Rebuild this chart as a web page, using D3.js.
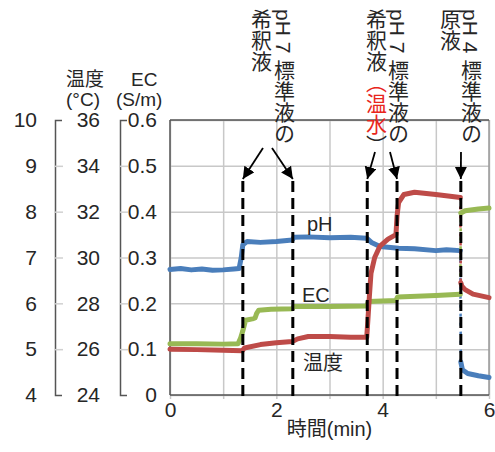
<!DOCTYPE html>
<html>
<head>
<meta charset="utf-8">
<script src="https://cdn.jsdelivr.net/npm/d3@7/dist/d3.min.js"></script>
<style>
body { margin: 0; background: #fff; }
svg text { font-family: "Liberation Sans", "Noto Sans CJK JP", sans-serif; fill: #262626; }
</style>
</head>
<body>
<svg width="495" height="452"></svg>
<script>
// readings, time in minutes
const phTime = [0, 0.2, 0.4, 0.6, 0.8, 1.0, 1.2, 1.3, 1.34, 1.37, 1.45, 1.7, 2.0, 2.3, 2.33, 2.6, 3.0, 3.4, 3.7, 3.8, 3.95, 4.3, 4.6, 5.0, 5.2, 5.46, 5.47, 5.5, 5.6, 5.8, 6.0];
const phValue = [6.74, 6.76, 6.73, 6.75, 6.72, 6.73, 6.75, 6.76, 7.0, 7.28, 7.35, 7.33, 7.35, 7.38, 7.44, 7.45, 7.43, 7.44, 7.42, 7.32, 7.24, 7.2, 7.19, 7.15, 7.17, 7.15, 4.72, 4.55, 4.47, 4.42, 4.38];

const ecTime = [0, 0.5, 1.0, 1.28, 1.33, 1.37, 1.42, 1.55, 1.6, 1.63, 1.67, 1.9, 2.3, 2.33, 3.0, 3.7, 3.73, 4.25, 4.28, 5.0, 5.46, 5.47, 5.55, 5.8, 6.0];
const ecValue = [0.112, 0.112, 0.111, 0.112, 0.125, 0.14, 0.163, 0.166, 0.168, 0.178, 0.185, 0.187, 0.188, 0.193, 0.193, 0.194, 0.204, 0.206, 0.214, 0.217, 0.22, 0.397, 0.402, 0.406, 0.408];

const tempTime = [0, 0.5, 1.0, 1.36, 1.4, 1.7, 2.0, 2.3, 2.4, 2.6, 3.0, 3.4, 3.7, 3.72, 3.75, 3.78, 3.85, 3.95, 4.1, 4.25, 4.27, 4.3, 4.4, 4.6, 5.0, 5.46, 5.47, 5.49, 5.55, 5.7, 6.0];
const tempValue = [26.0, 25.98, 25.95, 25.93, 26.05, 26.2, 26.28, 26.33, 26.45, 26.55, 26.55, 26.52, 26.52, 27.2, 28.3, 29.3, 30.0, 30.5, 30.8, 31.0, 31.8, 32.4, 32.75, 32.85, 32.75, 32.62, 28.9, 28.75, 28.6, 28.4, 28.25];

const phTicks = [4, 5, 6, 7, 8, 9, 10];
const tempTicks = [24, 26, 28, 30, 32, 34, 36];
const ecTicks = [0, 0.1, 0.2, 0.3, 0.4, 0.5, 0.6];
const timeGrid = [0, 1, 2, 3, 4, 5, 6];
const timeLabels = [0, 2, 4, 6];

// solution changes (dashed lines)
const eventTimes = [1.37, 2.31, 3.71, 4.27, 5.47];

const svg = d3.select("svg");
const plotLeft = 170, plotRight = 489, plotTop = 120, plotBottom = 395;

const x = d3.scaleLinear().domain([0, 6]).range([plotLeft, plotRight]);
const yPh = d3.scaleLinear().domain([4, 10]).range([plotBottom, plotTop]);
const yTemp = d3.scaleLinear().domain([24, 36]).range([plotBottom, plotTop]);
const yEc = d3.scaleLinear().domain([0, 0.6]).range([plotBottom, plotTop]);

// grid + EC labels
const ecAxisG = svg.append("g")
  .attr("transform", `translate(${plotLeft},0)`)
  .call(d3.axisLeft(yEc).tickValues(ecTicks).tickSize(-(plotRight - plotLeft)).tickPadding(13)
    .tickFormat(d => d === 0 ? "0" : d3.format(".1f")(d)));
ecAxisG.select(".domain").remove();
ecAxisG.selectAll(".tick line").attr("stroke", "#c8c8c8").attr("stroke-width", 1.5);
ecAxisG.selectAll(".tick text").style("font-size", "21px");

const xGridG = svg.append("g")
  .attr("transform", `translate(0,${plotBottom})`)
  .call(d3.axisBottom(x).tickValues(timeGrid).tickSize(-(plotBottom - plotTop)).tickFormat(""));
xGridG.select(".domain").remove();
xGridG.selectAll(".tick line").attr("stroke", "#c8c8c8").attr("stroke-width", 1.5);

const xTickG = svg.append("g")
  .attr("transform", `translate(0,${plotBottom})`)
  .call(d3.axisBottom(x).tickValues(timeGrid).tickSize(4).tickFormat(""));
xTickG.select(".domain").remove();
xTickG.selectAll(".tick line").attr("stroke", "#c8c8c8").attr("stroke-width", 1.5);

const xLabelG = svg.append("g")
  .attr("transform", `translate(0,${plotBottom})`)
  .call(d3.axisBottom(x).tickValues(timeLabels).tickSize(0).tickPadding(7).tickFormat(d3.format("d")));
xLabelG.select(".domain").remove();
xLabelG.selectAll(".tick text").style("font-size", "21px");

svg.append("text")
  .attr("x", (plotLeft + plotRight) / 2)
  .attr("y", 436)
  .attr("text-anchor", "middle")
  .style("font-size", "20px")
  .text("時間(min)");

// frame
svg.append("line").attr("x1", plotRight).attr("x2", plotRight).attr("y1", plotTop).attr("y2", plotBottom)
  .attr("stroke", "#9a9a9a").attr("stroke-width", 1.5);
svg.append("line").attr("x1", plotLeft).attr("x2", plotRight).attr("y1", plotTop).attr("y2", plotTop)
  .attr("stroke", "#555").attr("stroke-width", 1.5);
svg.append("line").attr("x1", plotLeft).attr("x2", plotRight).attr("y1", plotBottom).attr("y2", plotBottom)
  .attr("stroke", "#555").attr("stroke-width", 1.5);
svg.append("line").attr("x1", plotLeft).attr("x2", plotLeft).attr("y1", plotTop).attr("y2", plotBottom)
  .attr("stroke", "#555").attr("stroke-width", 1.5);

// extra y axes: bracket + labels
function bracketAxis(scale, ticks, axisX, labelX) {
  const inner = ticks.slice(1, -1);
  const b = svg.append("g")
    .attr("transform", `translate(${axisX},0)`)
    .call(d3.axisRight(scale).tickValues(inner).tickSize(8).tickSizeOuter(7).tickFormat(""));
  b.select(".domain").attr("stroke", "#555").attr("stroke-width", 1.5);
  b.selectAll(".tick line").attr("stroke", "#d0d0d0").attr("stroke-width", 1.5);
  const l = svg.append("g")
    .attr("transform", `translate(${labelX},0)`)
    .call(d3.axisLeft(scale).tickValues(ticks).tickSize(0).tickPadding(0).tickFormat(d3.format("d")));
  l.select(".domain").remove();
  l.selectAll(".tick text").style("font-size", "21px");
}
bracketAxis(yPh, phTicks, 55, 37);
bracketAxis(yTemp, tempTicks, 120, 100);

// axis headers
svg.append("text").attr("x", 66).attr("y", 86).style("font-size", "19px").text("温度");
svg.append("text").attr("x", 66).attr("y", 106).style("font-size", "19px").text("(°C)");
svg.append("text").attr("x", 131).attr("y", 86).style("font-size", "19px").text("EC");
svg.append("text").attr("x", 116).attr("y", 106).style("font-size", "19px").text("(S/m)");

// series: steady parts thick, sudden jumps thin (they sit under the dashed lines)
const zip = (ts, vs) => ts.map((t, i) => ({ t: t, v: vs[i] }));
const series = [
  { data: zip(phTime, phValue), y: yPh, color: "#4a7ebb" },
  { data: zip(ecTime, ecValue), y: yEc, color: "#98b954" },
  { data: zip(tempTime, tempValue), y: yTemp, color: "#be4b48" }
];
series.forEach(s => {
  const runs = [[s.data[0]]];
  d3.pairs(s.data).forEach(([a, b]) => {
    if (Math.abs(s.y(b.v) - s.y(a.v)) > 30) {
      svg.append("line")
        .attr("x1", x(a.t)).attr("y1", s.y(a.v))
        .attr("x2", x(b.t)).attr("y2", s.y(b.v))
        .attr("stroke", s.color)
        .attr("stroke-width", 2.5)
        .attr("stroke-dasharray", "3,6");
      runs.push([b]);
    } else {
      runs[runs.length - 1].push(b);
    }
  });
  runs.forEach(run => {
    svg.append("path")
      .datum(run)
      .attr("fill", "none")
      .attr("stroke", s.color)
      .attr("stroke-width", 5)
      .attr("stroke-linejoin", "round")
      .attr("stroke-linecap", "round")
      .attr("d", d3.line().x(d => x(d.t)).y(d => s.y(d.v)));
  });
});

svg.append("text").attr("x", 307).attr("y", 231).style("font-size", "20px").text("pH");
svg.append("text").attr("x", 302).attr("y", 302).style("font-size", "20px").text("EC");
svg.append("text").attr("x", 303).attr("y", 370).style("font-size", "20px").text("温度");

// dashed event lines
svg.selectAll("line.event")
  .data(eventTimes)
  .enter()
  .append("line")
  .attr("class", "event")
  .attr("x1", d => x(d)).attr("x2", d => x(d))
  .attr("y1", 181).attr("y2", 397)
  .attr("stroke", "#000")
  .attr("stroke-width", 3)
  .attr("stroke-dasharray", "11,6");

// arrows
svg.append("defs").append("marker")
  .attr("id", "head")
  .attr("markerUnits", "userSpaceOnUse")
  .attr("markerWidth", 14).attr("markerHeight", 14)
  .attr("refX", 12).attr("refY", 6)
  .attr("orient", "auto")
  .append("path")
  .attr("d", "M0,0 L12,6 L0,12 Z")
  .attr("fill", "#000");

const arrowStarts = [[263, 148], [272, 148], [375, 152], [390, 152], [461, 152]];
eventTimes.forEach((t, i) => {
  svg.append("line")
    .attr("x1", arrowStarts[i][0]).attr("y1", arrowStarts[i][1])
    .attr("x2", x(t)).attr("y2", 179)
    .attr("stroke", "#000")
    .attr("stroke-width", 1.8)
    .attr("marker-end", "url(#head)");
});

// vertical annotations
function vtext(cx, parts) {
  const t = svg.append("text")
    .attr("x", cx).attr("y", 9)
    .style("writing-mode", "vertical-rl")
    .style("font-size", "21px");
  parts.forEach(p => {
    t.append("tspan").text(p[0]).style("fill", p[1] || "#262626");
  });
}
vtext(283, [["pH 7 標準液の"]]);
vtext(260, [["希釈液"]]);
vtext(397, [["pH 7 標準液の"]]);
vtext(375, [["希釈液"], ["（温水", "#e8261c"], ["）"]]);
vtext(470, [["pH 4 標準液の"]]);
vtext(449, [["原液"]]);
</script>
</body>
</html>
